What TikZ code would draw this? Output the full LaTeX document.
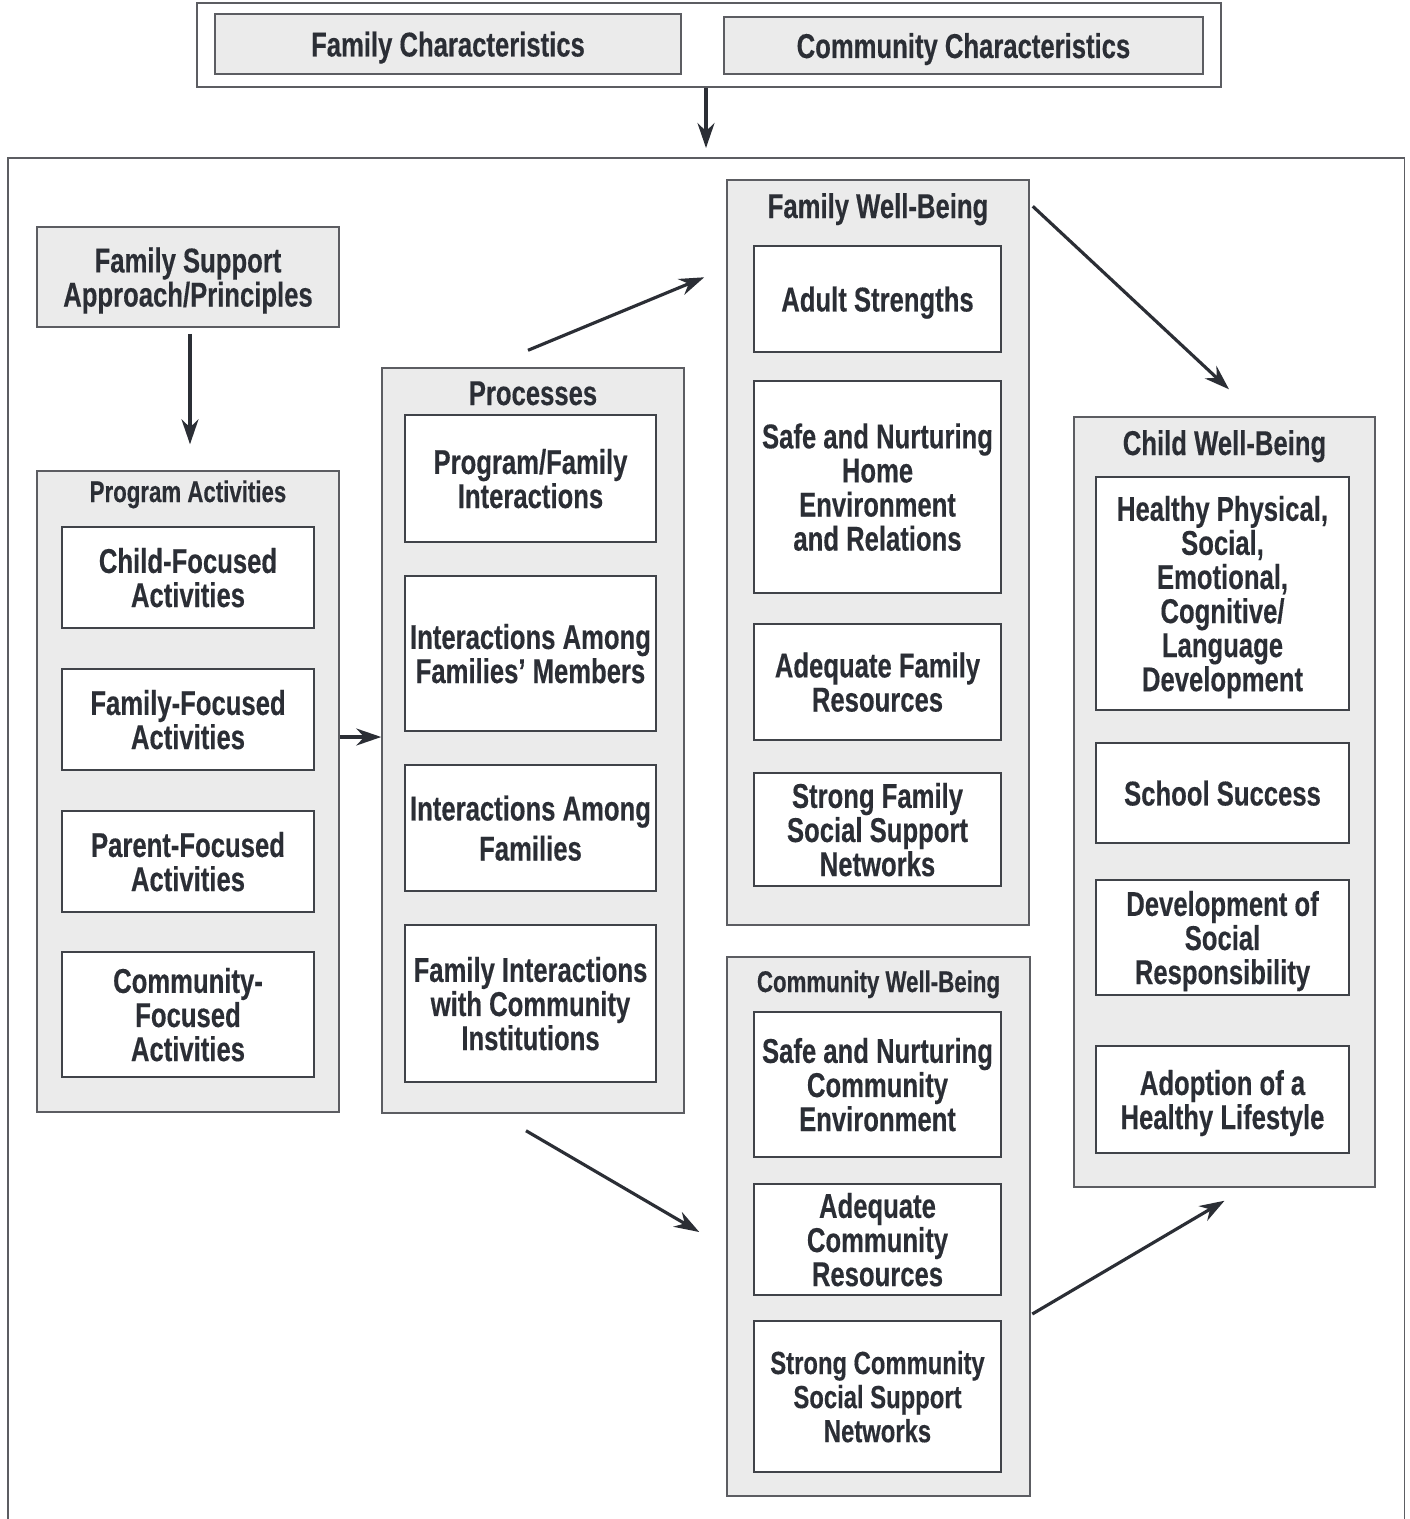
\documentclass[tikz,border=0pt]{standalone}
\usepackage{fontspec}
\setmainfont{Liberation Sans}[FakeStretch=0.745, BoldFeatures={FakeBold=0.3}]
\usetikzlibrary{arrows.meta, positioning}

\definecolor{ink}{HTML}{2B2E35}
\definecolor{panelgray}{HTML}{EBEBEB}
\definecolor{edgegray}{HTML}{5C5D62}
\newcommand{\boxfont}{\bfseries\fontsize{19.6}{19.4}\selectfont}
\newcommand{\smallboxfont}{\bfseries\fontsize{17}{17}\selectfont}

\begin{document}
\begin{tikzpicture}[x=0.02cm, y=-0.02cm]
    \tikzstyle{frame}   = [rectangle, draw=edgegray, fill=white, line width=0.9pt, inner sep=0pt]
    \tikzstyle{panel}   = [rectangle, draw=edgegray, fill=panelgray, line width=0.9pt, inner sep=0pt]
    \tikzstyle{tag}     = [rectangle, draw=edgegray, fill=panelgray, line width=0.9pt, inner sep=0pt, text depth=-1pt, text=ink, font=\boxfont, align=center]
    \tikzstyle{item}    = [rectangle, draw=ink!90, fill=white, line width=0.9pt, inner sep=0pt, text depth=-1pt, text=ink, font=\boxfont, align=center]
    \tikzstyle{title}   = [inner sep=0pt, anchor=base, text=ink, font=\boxfont]
    \tikzstyle{arrow}   = [line width=1.8pt, draw=ink, -{Stealth[length=0.5cm, width=0.34cm]}]

    \useasboundingbox (0,0) rectangle (1410,1519);

    % Characteristics
    \node [frame, minimum width=20.48cm, minimum height=1.68cm] (chars) at (709,45) {};
    \node [tag, minimum width=9.32cm, minimum height=1.2cm]  (famchar) at (448,44)    {Family Characteristics};
    \node [tag, minimum width=9.58cm, minimum height=1.14cm] (comchar) at (963.5,45.5) {Community Characteristics};

    % Model frame
    \node [frame, anchor=north west, minimum width=27.94cm, minimum height=27.5cm] (model) at (7,157) {};

    % Approach
    \node [tag, minimum width=6.04cm, minimum height=2.0cm] (approach) at (188,277) {Family Support\\Approach/Principles};

    % Program Activities
    \node [panel, minimum width=6.04cm, minimum height=12.82cm] (activities) at (188,791.5) {};
    \node [title, font=\smallboxfont] (activitiest) at (188,502) {Program Activities};
    \node [item, minimum width=5.04cm, minimum height=2.02cm] (childfoc)  at (188,577.5)  {Child-Focused\\Activities};
    \node [item, minimum width=5.04cm, minimum height=2.02cm] (familyfoc) at (188,719.5)  {Family-Focused\\Activities};
    \node [item, minimum width=5.04cm, minimum height=2.02cm] (parentfoc) at (188,861.5)  {Parent-Focused\\Activities};
    \node [item, minimum width=5.04cm, minimum height=2.5cm]  (commfoc)   at (188,1014.5) {Community-\\Focused\\Activities};

    % Processes
    \node [panel, minimum width=6.04cm, minimum height=14.9cm] (processes) at (533,740.5) {};
    \node [title] (processest) at (533,405) {Processes};
    \node [item, minimum width=5.02cm, minimum height=2.54cm] (progfam)  at (530.5,478.5)  {Program/Family\\Interactions};
    \node [item, minimum width=5.02cm, minimum height=3.1cm]  (members)  at (530.5,653.5)  {Interactions Among\\Families’ Members};
    \node [item, minimum width=5.02cm, minimum height=2.52cm] (families) at (530.5,828)    {Interactions Among\\[3.4pt]Families};
    \node [item, minimum width=5.02cm, minimum height=3.14cm] (instit)   at (530.5,1003.5) {Family Interactions\\with Community\\Institutions};

    % Family Well-Being
    \node [panel, minimum width=6.04cm, minimum height=14.9cm] (famwb) at (878,552.5) {};
    \node [title] (famwbt) at (878,218) {Family Well-Being};
    \node [item, minimum width=4.94cm, minimum height=2.12cm] (adult)    at (877.5,299)   {Adult Strengths};
    \node [item, minimum width=4.94cm, minimum height=4.24cm] (home)     at (877.5,487)   {Safe and Nurturing\\Home\\Environment\\and Relations};
    \node [item, minimum width=4.94cm, minimum height=2.32cm] (famres)   at (877.5,682)   {Adequate Family\\Resources};
    \node [item, minimum width=4.94cm, minimum height=2.26cm] (famnet)   at (877.5,829.5) {Strong Family\\Social Support\\Networks};

    % Community Well-Being
    \node [panel, minimum width=6.06cm, minimum height=10.78cm] (comwb) at (878.5,1226.5) {};
    \node [title, font=\smallboxfont] (comwbt) at (878.5,992) {Community Well-Being};
    \node [item, minimum width=4.94cm, minimum height=2.9cm]  (comenv)   at (877.5,1084.5) {Safe and Nurturing\\Community\\Environment};
    \node [item, minimum width=4.94cm, minimum height=2.22cm] (comres)   at (877.5,1239.5) {Adequate\\Community\\Resources};
    \node [item, minimum width=4.94cm, minimum height=3.02cm, font=\bfseries\fontsize{18.2}{19.4}\selectfont] (comnet) at (877.5,1396.5) {Strong Community\\Social Support\\Networks};

    % Child Well-Being
    \node [panel, minimum width=6.02cm, minimum height=15.4cm] (childwb) at (1224.5,802) {};
    \node [title] (childwbt) at (1224.5,455) {Child Well-Being};
    \node [item, minimum width=5.06cm, minimum height=4.66cm] (develop)  at (1222.5,593.5)  {Healthy Physical,\\Social,\\Emotional,\\Cognitive/\\Language\\Development};
    \node [item, minimum width=5.06cm, minimum height=2.0cm]  (school)   at (1222.5,793)    {School Success};
    \node [item, minimum width=5.06cm, minimum height=2.3cm]  (respons)  at (1222.5,937.5)  {Development of\\Social\\Responsibility};
    \node [item, minimum width=5.06cm, minimum height=2.14cm] (lifestyle) at (1222.5,1099.5) {Adoption of a\\Healthy Lifestyle};

    % Arrows
    \coordinate (modelin)  at (706,148);
    \coordinate (feed)     at (360,737);
    \draw [arrow] (chars.south -| modelin) -- (modelin);
    \draw [arrow] ([shift={(2,6)}]approach.south) -- ([shift={(2,-26)}]activities.north);
    \draw [arrow] (activities.east |- feed) -- (processes.west |- feed);
    \draw [arrow] ([shift={(-5,-17)}]processes.north) -- ([shift={(-22,98)}]famwb.north west);
    \draw [arrow] ([shift={(-7,17)}]processes.south) -- ([shift={(-27,5.5)}]comwb.west);
    \draw [arrow] ([shift={(3,27)}]famwb.north east) -- ([shift={(4.5,-27)}]childwb.north);
    \draw [arrow] ([shift={(1.5,87.5)}]comwb.east) -- ([shift={(0,13)}]childwb.south);

\end{tikzpicture}
\end{document}
